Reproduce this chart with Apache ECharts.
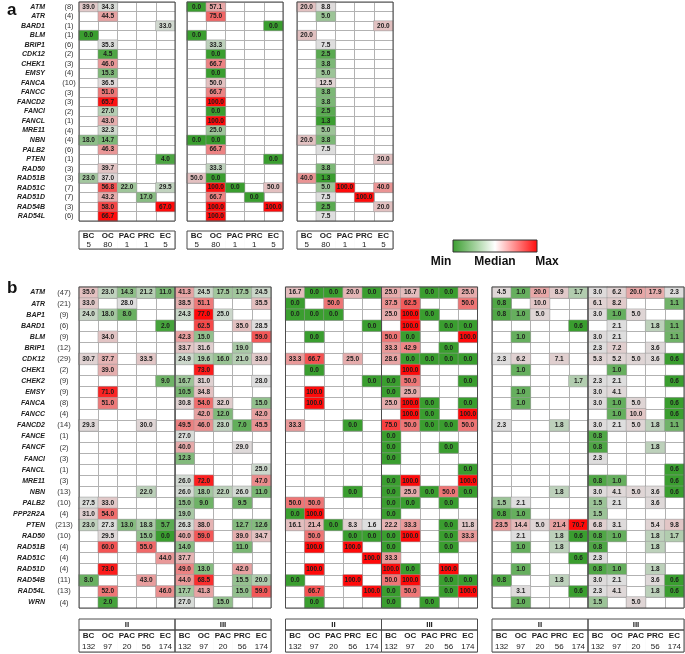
<!DOCTYPE html>
<html>
<head>
<meta charset="utf-8">
<script src="https://cdn.jsdelivr.net/npm/echarts@6/dist/echarts.min.js"></script>
<style>
  html, body { margin: 0; padding: 0; background: #fff; }
  #chart { width: 685px; height: 654px; }
</style>
</head>
<body>
<div id="chart"></div>
<script>
const _ = null;

// ---- panel a ----
const typesA = ['BC', 'OC', 'PAC', 'PRC', 'EC'];
const samplesA = [5, 80, 1, 1, 5];
const genesA = ['ATM', 'ATR', 'BARD1', 'BLM', 'BRIP1', 'CDK12', 'CHEK1', 'EMSY', 'FANCA', 'FANCC', 'FANCD2',
  'FANCI', 'FANCL', 'MRE11', 'NBN', 'PALB2', 'PTEN', 'RAD50', 'RAD51B', 'RAD51C', 'RAD51D', 'RAD54B', 'RAD54L'];
const countsA = [8, 4, 1, 1, 6, 2, 3, 4, 10, 3, 3, 2, 1, 4, 4, 6, 1, 3, 3, 7, 7, 3, 6];

const a1 = [
  [39.0, 34.3, _, _, _], [_, 44.5, _, _, _], [_, _, _, _, 33.0], [0.0, _, _, _, _],
  [_, 35.3, _, _, _], [_, 4.5, _, _, _], [_, 46.0, _, _, _], [_, 15.3, _, _, _],
  [_, 36.5, _, _, _], [_, 51.0, _, _, _], [_, 65.7, _, _, _], [_, 27.0, _, _, _],
  [_, 43.0, _, _, _], [_, 32.3, _, _, _], [18.0, 14.7, _, _, _], [_, 46.3, _, _, _],
  [_, _, _, _, 4.0], [_, 39.7, _, _, _], [23.0, 37.0, _, _, _], [_, 56.8, 22.0, _, 29.5],
  [_, 43.2, _, 17.0, _], [_, 58.0, _, _, 67.0], [_, 66.7, _, _, _]
];
const a2 = [
  [0.0, 57.1, _, _, _], [_, 75.0, _, _, _], [_, _, _, _, 0.0], [0.0, _, _, _, _],
  [_, 33.3, _, _, _], [_, 0.0, _, _, _], [_, 66.7, _, _, _], [_, 0.0, _, _, _],
  [_, 50.0, _, _, _], [_, 66.7, _, _, _], [_, 100.0, _, _, _], [_, 0.0, _, _, _],
  [_, 100.0, _, _, _], [_, 25.0, _, _, _], [0.0, 0.0, _, _, _], [_, 66.7, _, _, _],
  [_, _, _, _, 0.0], [_, 33.3, _, _, _], [50.0, 0.0, _, _, _], [_, 100.0, 0.0, _, 50.0],
  [_, 66.7, _, 0.0, _], [_, 100.0, _, _, 100.0], [_, 100.0, _, _, _]
];
const a3 = [
  [20.0, 8.8, _, _, _], [_, 5.0, _, _, _], [_, _, _, _, 20.0], [20.0, _, _, _, _],
  [_, 7.5, _, _, _], [_, 2.5, _, _, _], [_, 3.8, _, _, _], [_, 5.0, _, _, _],
  [_, 12.5, _, _, _], [_, 3.8, _, _, _], [_, 3.8, _, _, _], [_, 2.5, _, _, _],
  [_, 1.3, _, _, _], [_, 5.0, _, _, _], [20.0, 3.8, _, _, _], [_, 7.5, _, _, _],
  [_, _, _, _, 20.0], [_, 3.8, _, _, _], [40.0, 1.3, _, _, _], [_, 5.0, 100.0, _, 40.0],
  [_, 7.5, _, 100.0, _], [_, 2.5, _, _, 20.0], [_, 7.5, _, _, _]
];

// ---- panel b ----
const stagesB = ['II', 'III'];
const typesB = ['BC', 'OC', 'PAC', 'PRC', 'EC'];
const samplesB = [132, 97, 20, 56, 174];
const genesB = ['ATM', 'ATR', 'BAP1', 'BARD1', 'BLM', 'BRIP1', 'CDK12', 'CHEK1', 'CHEK2', 'EMSY', 'FANCA',
  'FANCC', 'FANCD2', 'FANCE', 'FANCF', 'FANCI', 'FANCL', 'MRE11', 'NBN', 'PALB2', 'PPP2R2A', 'PTEN',
  'RAD50', 'RAD51B', 'RAD51C', 'RAD51D', 'RAD54B', 'RAD54L', 'WRN'];
const countsB = [47, 21, 9, 6, 9, 12, 29, 2, 9, 9, 8, 4, 14, 1, 2, 3, 1, 3, 13, 10, 4, 213, 10, 4, 4, 4, 11, 13, 4];

// columns: BC OC PAC PRC EC (stage II), BC OC PAC PRC EC (stage III)
const b1 = [
  [35.0, 23.0, 14.3, 21.2, 11.0, 41.3, 24.5, 17.5, 17.5, 24.5],
  [33.0, _, 28.0, _, _, 38.5, 51.1, _, _, 35.5],
  [24.0, 18.0, 8.0, _, _, 24.3, 77.0, 25.0, _, _],
  [_, _, _, _, 2.0, _, 62.5, _, 35.0, 28.5],
  [_, 34.0, _, _, _, 42.3, 15.0, _, _, 59.0],
  [_, _, _, _, _, 33.7, 31.6, _, 19.0, _],
  [30.7, 37.7, _, 33.5, _, 24.9, 19.6, 16.0, 21.0, 33.0],
  [_, 39.0, _, _, _, _, 73.0, _, _, _],
  [_, _, _, _, 9.0, 16.7, 31.0, _, _, 28.0],
  [_, 71.0, _, _, _, 10.5, 34.8, _, _, _],
  [_, 51.0, _, _, _, 30.8, 54.0, 32.0, _, 15.0],
  [_, _, _, _, _, _, 42.0, 12.0, _, 42.0],
  [29.3, _, _, 30.0, _, 49.5, 46.0, 23.0, 7.0, 45.5],
  [_, _, _, _, _, 27.0, _, _, _, _],
  [_, _, _, _, _, 40.0, _, _, 29.0, _],
  [_, _, _, _, _, 12.3, _, _, _, _],
  [_, _, _, _, _, _, _, _, _, 25.0],
  [_, _, _, _, _, 26.0, 72.0, _, _, 47.0],
  [_, _, _, 22.0, _, 26.0, 18.0, 22.0, 26.0, 11.0],
  [27.5, 33.0, _, _, _, 15.0, 9.0, _, 9.5, _],
  [31.0, 54.0, _, _, _, 19.0, _, _, _, _],
  [23.0, 27.3, 13.0, 18.8, 5.7, 26.3, 38.0, _, 12.7, 12.6],
  [_, 29.5, _, 15.0, 0.0, 40.0, 59.0, _, 39.0, 34.7],
  [_, 60.0, _, 55.0, _, 14.0, _, _, 11.0, _],
  [_, _, _, _, 44.0, 37.7, _, _, _, _],
  [_, 73.0, _, _, _, 49.0, 13.0, _, 42.0, _],
  [8.0, _, _, 43.0, _, 44.0, 68.5, _, 15.5, 20.0],
  [_, 52.0, _, _, 46.0, 17.7, 41.3, _, 15.0, 59.0],
  [_, 2.0, _, _, _, 27.0, _, 15.0, _, _]
];
const b2 = [
  [16.7, 0.0, 0.0, 20.0, 0.0, 25.0, 16.7, 0.0, 0.0, 25.0],
  [0.0, _, 50.0, _, _, 37.5, 62.5, _, _, 50.0],
  [0.0, 0.0, 0.0, _, _, 25.0, 100.0, 0.0, _, _],
  [_, _, _, _, 0.0, _, 100.0, _, 0.0, 0.0],
  [_, 0.0, _, _, _, 50.0, 0.0, _, _, 100.0],
  [_, _, _, _, _, 33.3, 42.9, _, 0.0, _],
  [33.3, 66.7, _, 25.0, _, 28.6, 0.0, 0.0, 0.0, 0.0],
  [_, 0.0, _, _, _, _, 100.0, _, _, _],
  [_, _, _, _, 0.0, 0.0, 50.0, _, _, 0.0],
  [_, 100.0, _, _, _, 0.0, 25.0, _, _, _],
  [_, 100.0, _, _, _, 25.0, 100.0, 0.0, _, 0.0],
  [_, _, _, _, _, _, 100.0, 0.0, _, 100.0],
  [33.3, _, _, 0.0, _, 75.0, 50.0, 0.0, 0.0, 50.0],
  [_, _, _, _, _, 0.0, _, _, _, _],
  [_, _, _, _, _, 0.0, _, _, 0.0, _],
  [_, _, _, _, _, 0.0, _, _, _, _],
  [_, _, _, _, _, _, _, _, _, 0.0],
  [_, _, _, _, _, 0.0, 100.0, _, _, 100.0],
  [_, _, _, 0.0, _, 0.0, 25.0, 0.0, 50.0, 0.0],
  [50.0, 50.0, _, _, _, 0.0, 0.0, _, 0.0, _],
  [0.0, 100.0, _, _, _, 0.0, _, _, _, _],
  [16.1, 21.4, 0.0, 8.3, 1.6, 22.2, 33.3, _, 0.0, 11.8],
  [_, 50.0, _, 0.0, 0.0, 0.0, 100.0, _, 0.0, 33.3],
  [_, 100.0, _, 100.0, _, 0.0, _, _, 0.0, _],
  [_, _, _, _, 100.0, 33.3, _, _, _, _],
  [_, 100.0, _, _, _, 100.0, 0.0, _, 100.0, _],
  [0.0, _, _, 100.0, _, 50.0, 100.0, _, 0.0, 0.0],
  [_, 66.7, _, _, 100.0, 0.0, 50.0, _, 0.0, 100.0],
  [_, 0.0, _, _, _, 0.0, _, 0.0, _, _]
];
const b3 = [
  [4.5, 1.0, 20.0, 8.9, 1.7, 3.0, 6.2, 20.0, 17.9, 2.3],
  [0.8, _, 10.0, _, _, 6.1, 8.2, _, _, 1.1],
  [0.8, 1.0, 5.0, _, _, 3.0, 1.0, 5.0, _, _],
  [_, _, _, _, 0.6, _, 2.1, _, 1.8, 1.1],
  [_, 1.0, _, _, _, 3.0, 2.1, _, _, 1.1],
  [_, _, _, _, _, 2.3, 7.2, _, 3.6, _],
  [2.3, 6.2, _, 7.1, _, 5.3, 5.2, 5.0, 3.6, 0.6],
  [_, 1.0, _, _, _, _, 1.0, _, _, _],
  [_, _, _, _, 1.7, 2.3, 2.1, _, _, 0.6],
  [_, 1.0, _, _, _, 3.0, 4.1, _, _, _],
  [_, 1.0, _, _, _, 3.0, 1.0, 5.0, _, 0.6],
  [_, _, _, _, _, _, 1.0, 10.0, _, 0.6],
  [2.3, _, _, 1.8, _, 3.0, 2.1, 5.0, 1.8, 1.1],
  [_, _, _, _, _, 0.8, _, _, _, _],
  [_, _, _, _, _, 0.8, _, _, 1.8, _],
  [_, _, _, _, _, 2.3, _, _, _, _],
  [_, _, _, _, _, _, _, _, _, 0.6],
  [_, _, _, _, _, 0.8, 1.0, _, _, 0.6],
  [_, _, _, 1.8, _, 3.0, 4.1, 5.0, 3.6, 0.6],
  [1.5, 2.1, _, _, _, 1.5, 2.1, _, 3.6, _],
  [0.8, 1.0, _, _, _, 1.5, _, _, _, _],
  [23.5, 14.4, 5.0, 21.4, 70.7, 6.8, 3.1, _, 5.4, 9.8],
  [_, 2.1, _, 1.8, 0.6, 0.8, 1.0, _, 1.8, 1.7],
  [_, 1.0, _, 1.8, _, 0.8, _, _, 1.8, _],
  [_, _, _, _, 0.6, 2.3, _, _, _, _],
  [_, 1.0, _, _, _, 0.8, 1.0, _, 1.8, _],
  [0.8, _, _, 1.8, _, 3.0, 2.1, _, 3.6, 0.6],
  [_, 3.1, _, _, 0.6, 2.3, 4.1, _, 1.8, 0.6],
  [_, 1.0, _, _, _, 1.5, _, 5.0, _, _]
];

// colours: min -> median -> max
const GREEN = '#3a9e2f', MID = '#dedede', RED = '#ff0a0a';
const FONT = "'Liberation Sans', Arial, sans-serif";
const NARROW = "'Liberation Sans Narrow', 'Liberation Sans', Arial, sans-serif";

const grids = [], xAxes = [], yAxes = [], series = [], visualMaps = [];

function addGrid(box, xData, yData) {
  const g = grids.length;
  grids.push({
    left: box[0], top: box[1], width: box[2], height: box[3],
    show: true, z: 5, backgroundColor: 'transparent',
    borderColor: '#4d4d4d', borderWidth: 1
  });
  const axisBase = {
    gridIndex: g, type: 'category',
    axisLine: { show: false }, axisTick: { show: false },
    axisLabel: { show: false, interval: 0 },
    splitLine: { show: true, interval: 0, lineStyle: { color: '#b2b2b2', width: 1 } }
  };
  xAxes.push(Object.assign({}, axisBase, { data: xData }));
  yAxes.push(Object.assign({}, axisBase, { data: yData, inverse: true }));
  return { x: xAxes.length - 1, y: yAxes.length - 1, g: g };
}

// gene names + counts on the left of the first block of a panel
function addGeneLabels(g, genes, counts, nameFont, nameSize, nameMargin, countMargin) {
  yAxes[g.y].axisLabel = {
    show: true, interval: 0, margin: nameMargin,
    fontStyle: 'italic', fontWeight: 'bold', fontSize: nameSize,
    fontFamily: nameFont, color: '#222'
  };
  yAxes.push({
    gridIndex: g.g, type: 'category', inverse: true, position: 'left',
    data: counts.map(c => '(' + c + ')'),
    axisLine: { show: false }, axisTick: { show: false }, splitLine: { show: false },
    axisLabel: { show: true, interval: 0, margin: countMargin, align: 'center',
      fontSize: 7.5, fontFamily: FONT, color: '#333' }
  });
}

function blockStats(rows) {
  const v = rows.flat().filter(d => d !== null).sort((p, q) => p - q);
  const n = v.length;
  const med = n % 2 ? v[(n - 1) / 2] : (v[n / 2 - 1] + v[n / 2]) / 2;
  return { min: v[0], med: med, max: v[n - 1] };
}

function rank(v, s) {
  if (v <= s.med) return s.med === s.min ? 0.5 : 0.5 * (v - s.min) / (s.med - s.min);
  return 0.5 + 0.5 * (v - s.med) / (s.max - s.med);
}

function addHeat(g, rows, c0, c1, s) {
  const data = [];
  rows.forEach((r, y) => {
    for (let c = c0; c < c1; c++) {
      if (r[c] !== null) data.push([c - c0, y, r[c], rank(r[c], s)]);
    }
  });
  const idx = series.length;
  series.push({
    type: 'heatmap', xAxisIndex: g.x, yAxisIndex: g.y, data: data,
    itemStyle: { borderColor: '#9a9a9a', borderWidth: 0.5 },
    label: { show: true, formatter: p => p.data[2].toFixed(1), fontSize: 6.5,
      fontWeight: 'bold', fontFamily: FONT, color: '#1c1c1c' },
    emphasis: { disabled: true }, progressive: 0
  });
  visualMaps.push({
    type: 'continuous', show: false, seriesIndex: idx, dimension: 3, min: 0, max: 1,
    inRange: { color: [GREEN, MID, RED] }
  });
}

// small text tables under each block
function addTable(box, cells, styles) {
  const cols = cells[0].length;
  const g = addGrid(box, cells[0].map((d, i) => i), cells.map((d, i) => i));
  const data = [];
  cells.forEach((r, y) => r.forEach((d, x) => data.push([x, y, 0])));
  series.push({
    type: 'heatmap', xAxisIndex: g.x, yAxisIndex: g.y, data: data,
    itemStyle: { color: '#fff' },
    label: { show: true, formatter: p => '{' + styles[p.data[1]] + '|' + cells[p.data[1]][p.data[0]] + '}',
      rich: {
        b: { fontSize: 8, fontWeight: 'bold', fontFamily: FONT, color: '#222' },
        n: { fontSize: 8, fontFamily: FONT, color: '#222' }
      } },
    emphasis: { disabled: true }, silent: true
  });
  return g;
}

// ---- layout ----
const W = 96;
const aLeft = [79, 187, 297], aTop = 2, aH = 219, aFootTop = 231, aFootH = 18;
const bLeft = [79, 285.5, 492], bTop = 287, bH = 321, bHeadTop = 619, bHeadH = 11, bFootTop = 630, bFootH = 22;

[a1, a2, a3].forEach((rows, i) => {
  const g = addGrid([aLeft[i], aTop, W, aH], typesA, genesA);
  addHeat(g, rows, 0, 5, blockStats(rows));
  if (i === 0) addGeneLabels(g, genesA, countsA, NARROW, 7, 34, 10);
  addTable([aLeft[i], aFootTop, W, aFootH], [typesA, samplesA], ['b', 'n']);
});

[b1, b2, b3].forEach((rows, i) => {
  const s = blockStats(rows);
  stagesB.forEach((stage, k) => {
    const left = bLeft[i] + k * W;
    const g = addGrid([left, bTop, W, bH], typesB, genesB);
    addHeat(g, rows, k * 5, k * 5 + 5, s);
    if (i === 0 && k === 0) addGeneLabels(g, genesB, countsB, FONT, 7, 34, 15);
    addTable([left, bHeadTop, W, bHeadH], [[stage]], ['b']);
    addTable([left, bFootTop, W, bFootH], [typesB, samplesB], ['b', 'n']);
  });
});

const chart = echarts.init(document.getElementById('chart'));
chart.setOption({
  animation: false,
  title: [
    { text: 'a', left: 2, top: -3, textStyle: { fontSize: 17, fontWeight: 'bold', fontFamily: FONT, color: '#111' } },
    { text: 'b', left: 2, top: 275, textStyle: { fontSize: 17, fontWeight: 'bold', fontFamily: FONT, color: '#111' } }
  ],
  grid: grids, xAxis: xAxes, yAxis: yAxes,
  visualMap: visualMaps, series: series,
  graphic: [
    { type: 'rect', shape: { x: 453, y: 240, width: 84, height: 12 },
      style: { fill: new echarts.graphic.LinearGradient(0, 0, 1, 0, [
        { offset: 0, color: GREEN }, { offset: 0.5, color: '#ffffff' }, { offset: 1, color: RED }]),
        stroke: '#333', lineWidth: 1 } },
    { type: 'text', x: 441, y: 262, style: { text: 'Min', align: 'center', verticalAlign: 'middle',
      font: 'bold 12px ' + FONT, fill: '#111' } },
    { type: 'text', x: 495, y: 262, style: { text: 'Median', align: 'center', verticalAlign: 'middle',
      font: 'bold 12px ' + FONT, fill: '#111' } },
    { type: 'text', x: 547, y: 262, style: { text: 'Max', align: 'center', verticalAlign: 'middle',
      font: 'bold 12px ' + FONT, fill: '#111' } }
  ]
});

window.addEventListener('resize', function () {
  chart && chart.resize();
});
</script>
</body>
</html>
